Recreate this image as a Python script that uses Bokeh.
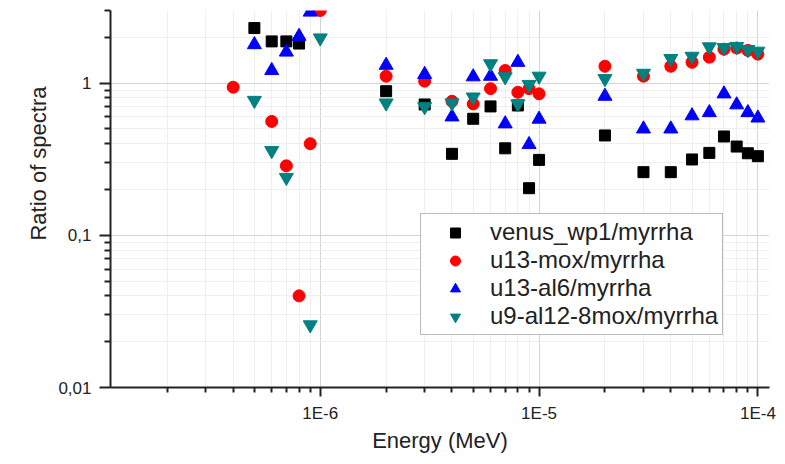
from bokeh.plotting import figure
from bokeh.models import Range1d, FixedTicker, Legend, LegendItem, Title
from bokeh.embed import file_html
from bokeh.resources import INLINE

# ---------------- data ----------------
venus_x = [5e-7, 6e-7, 7e-7, 8e-7,
           2e-6, 3e-6, 4e-6, 5e-6, 6e-6, 7e-6, 8e-6, 9e-6, 1e-5,
           2e-5, 3e-5, 4e-5, 5e-5, 6e-5, 7e-5, 8e-5, 9e-5, 1e-4]
venus_y = [2.30, 1.88, 1.88, 1.82,
           0.885, 0.724, 0.343, 0.583, 0.703, 0.373, 0.713, 0.204, 0.313,
           0.453, 0.260, 0.260, 0.315, 0.348, 0.446, 0.383, 0.346, 0.331]

u13mox_x = [4e-7, 6e-7, 7e-7, 8e-7, 9e-7, 1e-6,
            2e-6, 3e-6, 4e-6, 5e-6, 6e-6, 7e-6, 8e-6, 9e-6, 1e-5,
            2e-5, 3e-5, 4e-5, 5e-5, 6e-5, 7e-5, 8e-5, 9e-5, 1e-4]
u13mox_y = [0.94, 0.56, 0.286, 0.040, 0.40, 3.0,
            1.11, 1.03, 0.76, 0.73, 0.92, 1.21, 0.87, 0.92, 0.85,
            1.29, 1.11, 1.29, 1.37, 1.48, 1.67, 1.70, 1.64, 1.55]

u13al6_x = [5e-7, 6e-7, 7e-7, 8e-7, 9e-7,
            2e-6, 3e-6, 4e-6, 5e-6, 6e-6, 7e-6, 8e-6, 9e-6, 1e-5,
            2e-5, 3e-5, 4e-5, 5e-5, 6e-5, 7e-5, 8e-5, 9e-5, 1e-4]
u13al6_y = [1.79, 1.21, 1.60, 2.03, 2.93,
            1.31, 1.14, 0.60, 1.10, 1.11, 0.54, 1.37, 0.395, 0.58,
            0.82, 0.50, 0.50, 0.61, 0.64, 0.85, 0.72, 0.64, 0.59]

u9_x = [5e-7, 6e-7, 7e-7, 9e-7, 1e-6,
        2e-6, 3e-6, 4e-6, 5e-6, 6e-6, 7e-6, 8e-6, 9e-6, 1e-5,
        2e-5, 3e-5, 4e-5, 5e-5, 6e-5, 7e-5, 8e-5, 9e-5, 1e-4]
u9_y = [0.77, 0.36, 0.24, 0.0258, 1.98,
        0.74, 0.70, 0.74, 0.81, 1.34, 1.10, 0.73, 0.98, 1.11,
        1.07, 1.16, 1.45, 1.50, 1.73, 1.71, 1.74, 1.66, 1.62]

series_labels = ["venus_wp1/myrrha", "u13-mox/myrrha", "u13-al6/myrrha", "u9-al12-8mox/myrrha"]

x_major = [1e-6, 1e-5, 1e-4]
x_major_labels = ["1E-6", "1E-5", "1E-4"]
y_major = [0.01, 0.1, 1]
y_major_labels = ["0,01", "0,1", "1"]

# ---------------- figure ----------------
FONT = "Liberation Sans"

p = figure(width=777, height=456, x_axis_type="log", y_axis_type="log",
           x_range=Range1d(1.1e-7, 1.13e-4), y_range=Range1d(0.01, 3.0),
           output_backend="svg", toolbar_location=None,
           min_border_left=110, min_border_right=8, min_border_top=10, min_border_bottom=69)
p.outline_line_color = None
p.background_fill_color = "white"

x_minor = [m * d for d in (1e-7, 1e-6, 1e-5) for m in range(2, 10)]
y_minor = [m * d for d in (0.01, 0.1) for m in range(2, 10)] + [2.0, 3.0]

p.xaxis.ticker = FixedTicker(ticks=x_major, minor_ticks=x_minor)
p.yaxis.ticker = FixedTicker(ticks=y_major, minor_ticks=y_minor)
p.xaxis.major_label_overrides = dict(zip(x_major, x_major_labels))
p.yaxis.major_label_overrides = dict(zip(y_major, y_major_labels))

for ax in (p.xaxis[0], p.yaxis[0]):
    ax.axis_line_width = 2
    ax.axis_line_color = "#222222"
    ax.major_tick_line_width = 2
    ax.major_tick_line_color = "#222222"
    ax.minor_tick_line_width = 2
    ax.minor_tick_line_color = "#222222"
    ax.major_tick_in = 0
    ax.minor_tick_in = 0
    ax.major_label_text_font = FONT
    ax.major_label_text_font_size = "17px"
    ax.major_label_text_color = "#222222"
    ax.axis_label_text_font = FONT
    ax.axis_label_text_font_style = "normal"
    ax.axis_label_text_font_size = "22px"
    ax.axis_label_text_color = "#222222"

p.xaxis.major_tick_out = 9
p.xaxis.minor_tick_out = 5
p.yaxis.major_tick_out = 11
p.yaxis.minor_tick_out = 6
p.xaxis.major_label_standoff = 7
p.yaxis.major_label_standoff = 8
p.xaxis.axis_label = "Energy (MeV)"
p.xaxis.axis_label_standoff = 2

# y-axis title as a side title, shifted up like the original
ytitle = Title(text="Ratio of spectra", align="right", offset=76,
               text_font=FONT, text_font_size="22px", text_font_style="normal",
               text_color="#222222", standoff=10)
p.add_layout(ytitle, "left")

for g in (p.xgrid[0], p.ygrid[0]):
    g.grid_line_color = "#d4d4d4"
    g.grid_line_width = 1
    g.minor_grid_line_color = "#efefef"
    g.minor_grid_line_width = 1

r1 = p.scatter(venus_x, venus_y, marker="square", size=11, fill_color="black", line_color="black")
r2 = p.scatter(u13mox_x, u13mox_y, marker="circle", size=12, fill_color="#ff0000", line_color="#ff0000")
r3 = p.scatter(u13al6_x, u13al6_y, marker="triangle", size=14, fill_color="#0000ff", line_color="#0000ff")
r4 = p.scatter(u9_x, u9_y, marker="inverted_triangle", size=14, fill_color="#008080", line_color="#008080")

legend = Legend(items=[LegendItem(label=l, renderers=[r]) for l, r in zip(series_labels, [r1, r2, r3, r4])],
                location=(310, 52), orientation="vertical")
legend.padding = 4
legend.spacing = 0
legend.margin = 0
legend.glyph_width = 60
legend.glyph_height = 25
legend.label_height = 28
legend.label_standoff = 5
legend.label_text_font = FONT
legend.label_text_font_size = "24px"
legend.label_text_color = "#222222"
legend.border_line_color = "#777777"
legend.border_line_width = 1
legend.background_fill_color = "white"
legend.background_fill_alpha = 1.0
p.add_layout(legend, "center")

open("out.html", "w").write(file_html(p, INLINE))
